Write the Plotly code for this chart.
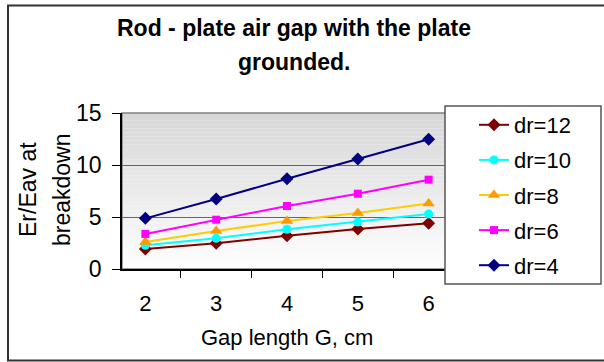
import plotly.graph_objects as go

# ---- data ----
gap_cm = ["2", "3", "4", "5", "6"]
dr12 = [1.92, 2.47, 3.20, 3.85, 4.39]
dr10 = [2.28, 2.95, 3.82, 4.52, 5.29]
dr8 = [2.60, 3.65, 4.62, 5.38, 6.30]
dr6 = [3.37, 4.74, 6.06, 7.24, 8.59]
dr4 = [4.87, 6.73, 8.68, 10.58, 12.47]
series_names = ["dr=12", "dr=10", "dr=8", "dr=6", "dr=4"]
y_ticks = [0, 5, 10, 15]
title_lines = ["Rod - plate air gap with the plate", "grounded."]
ytitle_lines = ["Er/Eav at", "breakdown"]
xtitle = "Gap length G, cm"

# ---- layout geometry ----
W, H = 604, 362
ML, MR, MT, MB = 122, 152, 113, 93
PW, PH = W - ML - MR, H - MT - MB
FONT = "Arial, Liberation Sans, sans-serif"
FS = 23


def px_x(x):
    return (x - ML) / PW


def px_y(y):
    return (H - MB - y) / PH


styles = [
    dict(line=dict(color="#800000", width=2), marker=dict(symbol="diamond", size=10, color="#800000")),
    dict(line=dict(color="#00FFFF", width=2), marker=dict(symbol="circle", size=9, color="#00FFFF")),
    dict(line=dict(color="#FFCC00", width=2), marker=dict(symbol="triangle-up", size=11, color="#FF9900")),
    dict(line=dict(color="#FF00FF", width=2), marker=dict(symbol="square", size=8, color="#FF00FF")),
    dict(line=dict(color="#000080", width=2), marker=dict(symbol="diamond", size=10, color="#000080")),
]

fig = go.Figure()
for name, vals, st in zip(series_names, [dr12, dr10, dr8, dr6, dr4], styles):
    fig.add_trace(go.Scatter(x=gap_cm, y=vals, name=name, mode="lines+markers",
                             line=st["line"], marker=st["marker"], legendgroup=name))

shapes = []
# gradient plot background
N = 40
for i in range(N):
    t = (i + 0.5) / N  # 0 bottom -> 1 top
    g = int(round(255 - t * (255 - 214)))
    shapes.append(dict(type="rect", xref="paper", yref="paper", x0=0, x1=1,
                       y0=i / N, y1=(i + 1) / N, fillcolor=f"rgb({g},{g},{g})",
                       line=dict(width=0), layer="below"))
# plot area border
shapes.append(dict(type="rect", xref="paper", yref="paper", x0=0, x1=1, y0=0, y1=1,
                   line=dict(color="#808080", width=1.5), layer="below"))
# outer chart border
shapes.append(dict(type="rect", xref="paper", yref="paper",
                   x0=px_x(8), x1=px_x(660), y0=px_y(360.5), y1=px_y(5.5),
                   line=dict(color="#333333", width=2)))
# legend box
shapes.append(dict(type="rect", xref="paper", yref="paper",
                   x0=px_x(445), x1=px_x(601), y0=px_y(284), y1=px_y(106),
                   fillcolor="white", line=dict(color="#555555", width=1.5), layer="above"))

annotations = []
for txt, yc in zip(title_lines, [28, 62]):
    annotations.append(dict(text=f"<b>{txt}</b>", xref="paper", yref="paper",
                            x=px_x(294), y=px_y(yc), xanchor="center", yanchor="middle",
                            showarrow=False, font=dict(size=FS, family=FONT, color="black")))
for txt, xc in zip(ytitle_lines, [28, 62]):
    annotations.append(dict(text=txt, xref="paper", yref="paper", textangle=-90,
                            x=px_x(xc), y=px_y(190), xanchor="center", yanchor="middle",
                            showarrow=False, font=dict(size=FS, family=FONT, color="black")))
annotations.append(dict(text=xtitle, xref="paper", yref="paper",
                        x=px_x(287), y=px_y(337), xanchor="center", yanchor="middle",
                        showarrow=False, font=dict(size=FS - 1, family=FONT, color="black")))

fig.update_layout(
    width=W, height=H,
    margin=dict(l=ML, r=MR, t=MT, b=MB),
    paper_bgcolor="white", plot_bgcolor="white",
    font=dict(family=FONT, color="black", size=FS),
    shapes=shapes,
    annotations=annotations,
    showlegend=True,
    legend=dict(x=px_x(474), y=px_y(104), xanchor="left", yanchor="top",
                bgcolor="rgba(0,0,0,0)", borderwidth=0,
                font=dict(size=22, family=FONT), tracegroupgap=3.5,
                traceorder="grouped", maxheight=260),
    xaxis=dict(type="category", tickson="boundaries", ticks="outside", ticklen=7,
               tickcolor="black", showline=True, linecolor="black", linewidth=1.5,
               showgrid=False, tickfont=dict(size=FS - 1), ticklabelstandoff=14),
    yaxis=dict(range=[0, 15], tickvals=y_ticks, ticks="outside", ticklen=8,
               tickcolor="black", showline=True, linecolor="black", linewidth=1.5,
               showgrid=True, gridcolor="#666666", gridwidth=1, zeroline=False,
               tickfont=dict(size=FS), ticklabelstandoff=6),
)

fig.write_html("out.html")
